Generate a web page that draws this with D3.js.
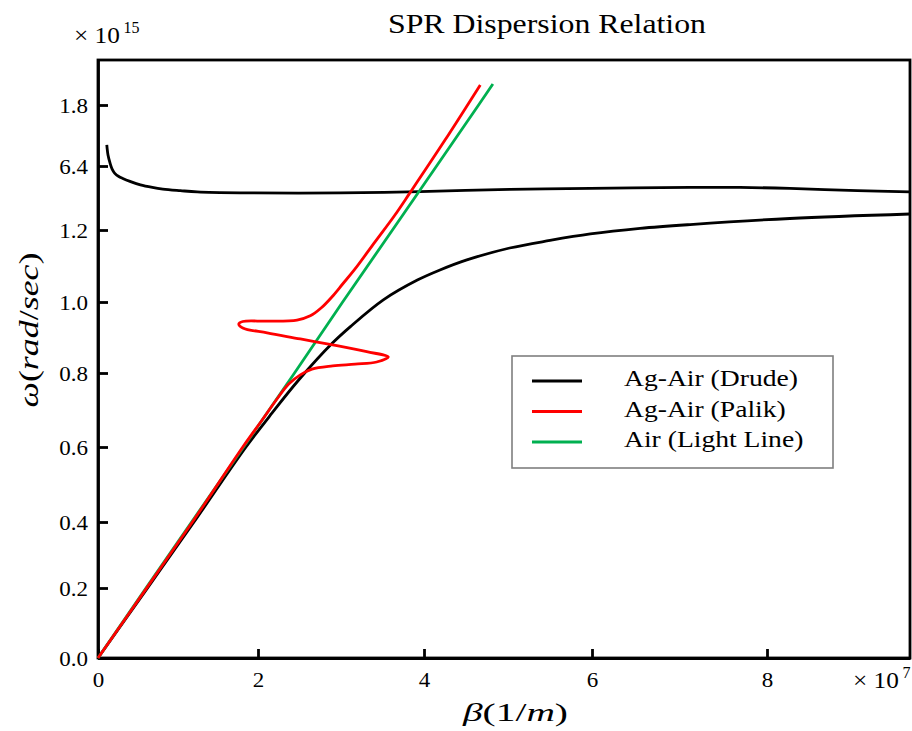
<!DOCTYPE html>
<html>
<head>
<meta charset="utf-8">
<script src="https://cdn.jsdelivr.net/npm/d3@7/dist/d3.min.js"></script>
<style>
  body { margin: 0; background: #fff; }
  svg { display: block; font-family: "Liberation Serif", "Times New Roman", serif; }
</style>
</head>
<body>
<div id="chart"></div>
<script>
// beta in units of 1e7 1/m, omega in units of 1e15 rad/s
var xTicks = [0, 2, 4, 6, 8];
var yTicks = [0, 0.2, 0.4, 0.6, 0.8, 1.0, 1.2, 1.4, 1.6];
var yTickLabels = ["0.0", "0.2", "0.4", "0.6", "0.8", "1.0", "1.2", "6.4", "1.8"];
var seriesNames = ["Ag-Air (Drude)", "Ag-Air (Palik)", "Air (Light Line)"];
var seriesColors = ["#000000", "#ff0000", "#00b050"];

// Drude model, lower (bound) branch
var drudeLower = [[0, 0], [0.6, 0.194], [1.2, 0.4], [1.85, 0.6], [2.17, 0.692], [2.49, 0.781],
  [2.9, 0.885], [3.11, 0.93], [3.51, 1.006], [3.92, 1.061], [4.19, 1.089], [4.51, 1.117],
  [5.02, 1.15], [5.5, 1.171], [5.98, 1.189], [6.55, 1.205], [7.12, 1.217], [8.26, 1.236],
  [9.63, 1.25]];

// Drude model, upper branch
var drudeUpper = [[0.11, 1.469], [0.125, 1.436], [0.15, 1.41], [0.175, 1.391], [0.21, 1.377],
  [0.26, 1.367], [0.31, 1.361], [0.4, 1.352], [0.53, 1.341], [0.68, 1.333], [0.81, 1.328],
  [1.03, 1.323], [1.24, 1.319], [1.78, 1.316], [2.99, 1.316], [3.95, 1.32], [5.02, 1.327],
  [5.98, 1.33], [7.12, 1.333], [7.69, 1.333], [8.26, 1.33], [9.03, 1.323], [9.63, 1.319]];

// Palik data (back-bending)
var palik = [[0, 0], [0.59, 0.194], [1.18, 0.4], [1.81, 0.6], [2.05, 0.673], [2.22, 0.727],
  [2.37, 0.77], [2.51, 0.795], [2.65, 0.811], [2.9, 0.82], [3.17, 0.825], [3.43, 0.831],
  [3.57, 0.845], [3.31, 0.86], [2.9, 0.879], [2.51, 0.896], [2.11, 0.913], [1.81, 0.927],
  [1.76, 0.938], [1.81, 0.945], [2.11, 0.946], [2.47, 0.949], [2.63, 0.961], [2.76, 0.983],
  [2.89, 1.014], [3.02, 1.05], [3.16, 1.089], [3.41, 1.167], [3.65, 1.247], [3.83, 1.316],
  [4.25, 1.485], [4.67, 1.667]];

// light line in air
var lightLine = [[0, 0], [0.6, 0.2], [1.17, 0.4], [1.82, 0.6], [2.44, 0.8], [3.02, 1.0],
  [3.62, 1.2], [4.15, 1.4], [4.65, 1.6], [4.82, 1.67]];

//chart parameters
var width = 912;
var height = 731;
var plot = {left: 98, top: 60, right: 910, bottom: 658};
var lineW = 2.8;

var svg = d3.select("#chart")
  .append("svg")
  .attr("width", width)
  .attr("height", height)
;

// the axes in the picture are not evenly spaced, so piecewise scales
var x = d3.scaleLinear()
  .domain([0, 2, 4, 6, 8, 9.63])
  .range([plot.left, 258, 424, 592, 767, plot.right])
;
var y = d3.scaleLinear()
  .domain([0, 0.2, 0.4, 0.6, 0.8, 1.0, 1.2, 1.4, 1.6, 1.75])
  .range([plot.bottom, 588, 522, 447, 373, 302, 230, 166, 105, plot.top])
;

// stretch text a bit wider, the source was drawn with a wider face
function stretch(sel, k) {
  sel.each(function() {
    var w = this.getComputedTextLength();
    d3.select(this).attr("textLength", w * k).attr("lengthAdjust", "spacingAndGlyphs");
  });
}

// "x 10^n" multiplier, base and exponent as two plain texts
function multiplier(px, py, exp) {
  var base = svg.append("text")
    .attr("x", px)
    .attr("y", py)
    .attr("font-size", 23)
    .text("\u00d7 10")
  ;
  stretch(base, 1.1);
  svg.append("text")
    .attr("x", px + base.node().getComputedTextLength() * 1.1 - 1)
    .attr("y", py - 10)
    .attr("font-size", 16)
    .text(exp)
  ;
}

// frame
svg.append("rect")
  .attr("x", plot.left)
  .attr("y", plot.top)
  .attr("width", plot.right - plot.left)
  .attr("height", plot.bottom - plot.top)
  .attr("fill", "none")
  .attr("stroke", "#000")
  .attr("stroke-width", lineW)
;

//x axis
var xAxis = d3.axisBottom(x)
  .tickValues(xTicks)
  .tickFormat(d3.format("d"))
  .tickSizeInner(-9)
  .tickSizeOuter(0)
  .tickPadding(15)
;
//y axis
var yAxis = d3.axisLeft(y)
  .tickValues(yTicks)
  .tickFormat(function(d, i) { return yTickLabels[i]; })
  .tickSizeInner(-10)
  .tickSizeOuter(0)
  .tickPadding(10)
;

var gx = svg.append("g")
  .attr("transform", "translate(0," + plot.bottom + ")")
  .call(xAxis)
;
var gy = svg.append("g")
  .attr("transform", "translate(" + plot.left + ",0)")
  .call(yAxis)
;
[gx, gy].forEach(function(g) {
  g.attr("font-family", null).attr("font-size", null);
  g.selectAll("path, line").attr("stroke", "#000").attr("stroke-width", lineW);
  g.selectAll("text")
    .attr("fill", "#000")
    .style("font-family", "'Liberation Serif', serif")
    .style("font-size", "20px");
  stretch(g.selectAll("text"), 1.15);
});
gy.selectAll("text").attr("dy", "0.36em");

// curves
var line = d3.line()
  .x(function(d) { return x(d[0]); })
  .y(function(d) { return y(d[1]); })
  .curve(d3.curveCatmullRom.alpha(0.5))
;
var straight = d3.line()
  .x(function(d) { return x(d[0]); })
  .y(function(d) { return y(d[1]); })
;

var curves = [
  {data: drudeLower, color: seriesColors[0], gen: line},
  {data: drudeUpper, color: seriesColors[0], gen: line},
  {data: lightLine, color: seriesColors[2], gen: straight},
  {data: palik, color: seriesColors[1], gen: line}
];

svg.append("g")
  .selectAll("path")
  .data(curves)
  .enter()
  .append("path")
  .attr("d", function(d) { return d.gen(d.data); })
  .attr("fill", "none")
  .attr("stroke", function(d) { return d.color; })
  .attr("stroke-width", lineW)
  .attr("stroke-linejoin", "round")
  .attr("stroke-linecap", "butt")
;

// title
svg.append("text")
  .attr("x", 547)
  .attr("y", 33)
  .attr("text-anchor", "middle")
  .attr("textLength", 318)
  .attr("lengthAdjust", "spacingAndGlyphs")
  .style("font-size", "28px")
  .text("SPR Dispersion  Relation")
;

// exponents
multiplier(74, 43, "15");
multiplier(853, 688, "7");

// axis titles
var xt = svg.append("text")
  .attr("x", 463)
  .attr("y", 721)
  .attr("textLength", 105)
  .attr("lengthAdjust", "spacingAndGlyphs")
  .style("font-size", "26px")
;
xt.append("tspan").style("font-style", "italic").text("\u03b2");
xt.append("tspan").text("(1/");
xt.append("tspan").style("font-style", "italic").text("m");
xt.append("tspan").text(")");

var yt = svg.append("text")
  .attr("transform", "translate(38,330) rotate(-90)")
  .attr("text-anchor", "middle")
  .attr("textLength", 155)
  .attr("lengthAdjust", "spacingAndGlyphs")
  .style("font-size", "27px")
;
yt.append("tspan").style("font-style", "italic").text("\u03c9");
yt.append("tspan").text("(");
yt.append("tspan").style("font-style", "italic").text("rad");
yt.append("tspan").text("/");
yt.append("tspan").style("font-style", "italic").text("sec");
yt.append("tspan").text(")");

// legend
var legend = svg.append("g").attr("transform", "translate(512,356)");
legend.append("rect")
  .attr("width", 321)
  .attr("height", 112)
  .attr("fill", "#fff")
  .attr("stroke", "#7f7f7f")
  .attr("stroke-width", 1.6)
;
var item = legend.selectAll("g.item")
  .data(seriesNames)
  .enter()
  .append("g")
  .attr("class", "item")
  .attr("transform", function(d, i) { return "translate(0," + (25 + i * 30.5) + ")"; })
;
item.append("line")
  .attr("x1", 20)
  .attr("x2", 70)
  .attr("stroke", function(d, i) { return seriesColors[i]; })
  .attr("stroke-width", lineW)
;
item.append("text")
  .attr("x", 112)
  .attr("y", 5)
  .style("font-size", "23px")
  .text(function(d) { return d; })
;
stretch(item.selectAll("text"), 1.2);
</script>
</body>
</html>
